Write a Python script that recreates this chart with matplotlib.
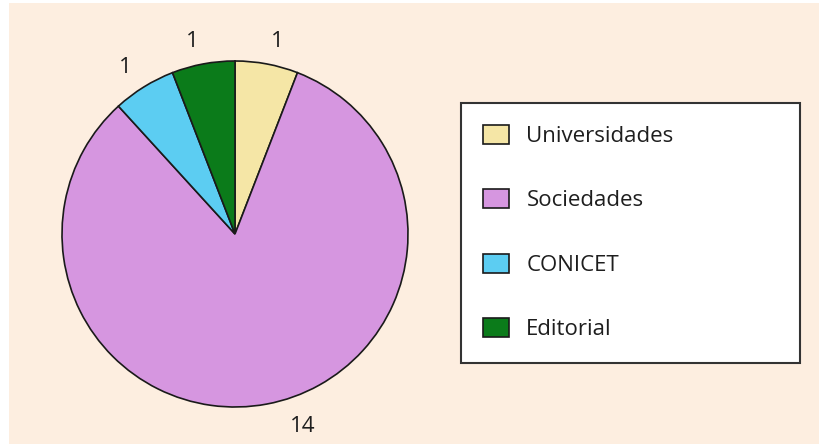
import numpy as np
import matplotlib
matplotlib.use("Agg")
import matplotlib.pyplot as plt
from matplotlib.patches import Rectangle

# funding sources and counts
categories = ["Universidades", "Sociedades", "CONICET", "Editorial"]
counts = [1, 14, 1, 1]
colors = ["#f5e6a6", "#d696e0", "#5ccdf2", "#0b7b1a"]

plt.rcParams["font.family"] = ["Open Sans", "DejaVu Sans"]

fig = plt.figure(figsize=(8.2, 4.46), dpi=100)
fig.patch.set_facecolor("white")
# cream panel behind everything
fig.patches.append(Rectangle((9 / 820, 2 / 446), 811 / 820, 441 / 446,
                             transform=fig.transFigure, facecolor="#fdeee0",
                             edgecolor="none", zorder=-10))

lim = 1.22
r_px = 173
size = 2 * lim * r_px
cx, cy = 235, 446 - 234
ax = fig.add_axes([(cx - size / 2) / 820, (cy - size / 2) / 446, size / 820, size / 446])
ax.set_facecolor("none")

wedges, texts = ax.pie(counts, colors=colors, labels=[str(c) for c in counts],
                       startangle=90, counterclock=False, labeldistance=1.13,
                       wedgeprops=dict(edgecolor="#1a1a1a", linewidth=1.2),
                       textprops=dict(fontsize=16, color="#1e1e1e"))
# the large slice's count sits lower right of its middle
texts[1].set_position((1.16 * np.cos(np.radians(-74)), 1.16 * np.sin(np.radians(-74))))
ax.set_xlim(-lim, lim)
ax.set_ylim(-lim, lim)
ax.set_aspect("equal")
ax.axis("off")

leg = fig.legend(wedges, categories, loc="upper left",
                 bbox_to_anchor=(461 / 820, 1 - 107 / 446, 339 / 820, 0.01),
                 mode="expand", fontsize=16, frameon=True, fancybox=False,
                 borderpad=1.0, labelspacing=1.9, handlelength=1.14,
                 handleheight=0.95, handletextpad=0.8, borderaxespad=0)
leg.get_frame().set_edgecolor("#333333")
leg.get_frame().set_linewidth(1.5)
leg.get_frame().set_facecolor("white")
leg.get_frame().set_alpha(1)
for t in leg.get_texts():
    t.set_color("#1e1e1e")

fig.savefig("out.png", dpi=100)
